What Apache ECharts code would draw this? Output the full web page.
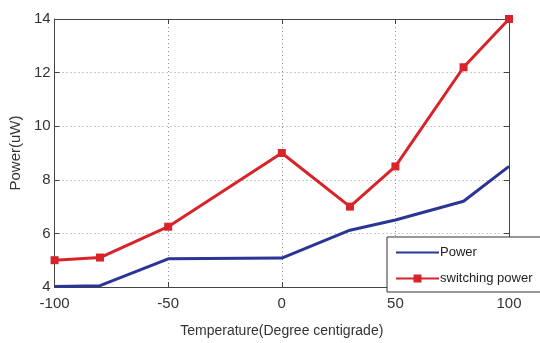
<!DOCTYPE html>
<html><head><meta charset="utf-8">
<script src="https://cdn.jsdelivr.net/npm/echarts@6/dist/echarts.min.js"></script>
<style>html,body{margin:0;padding:0;background:#fff}#c{width:540px;height:343px}</style>
</head><body><div id="c"></div>
<script>
const temps = [-100, -80, -50, 0, 30, 50, 80, 100];
const powerVals = [4.02, 4.05, 5.05, 5.08, 6.12, 6.5, 7.2, 8.5];
const switchingVals = [5.0, 5.1, 6.25, 9.0, 7.0, 8.5, 12.2, 14.0];
const xTicks = [-100, -50, 0, 50, 100];
const yTicks = [4, 6, 8, 10, 12, 14];
const seriesNames = ['Power', 'switching power'];

const FONT = '"Liberation Sans Narrow", "Liberation Sans", Arial, sans-serif';
const pair = (xs, ys) => xs.map((x, i) => [x, ys[i]]);
const chart = echarts.init(document.getElementById('c'));
const gridLine = {show: true, lineStyle: {color: '#999', type: [1, 3], width: 1}};
chart.setOption({
  animation: false,
  backgroundColor: '#fff',
  grid: {left: 52, right: 31, top: 19, bottom: 54, containLabel: false},
  xAxis: [{
    type: 'value', min: xTicks[0], max: xTicks[xTicks.length - 1], interval: 50,
    position: 'bottom',
    name: 'Temperature(Degree centigrade)', nameLocation: 'middle', nameGap: 37,
    nameTextStyle: {fontFamily: FONT, fontSize: 14, color: '#333'},
    axisLine: {show: true, onZero: false, lineStyle: {color: '#444', width: 1}},
    axisTick: {show: true, inside: true, length: 5, lineStyle: {color: '#444'}},
    axisLabel: {fontFamily: FONT, fontSize: 15, color: '#333', margin: 9},
    splitLine: gridLine
  }, {
    type: 'value', min: xTicks[0], max: xTicks[xTicks.length - 1], interval: 50,
    position: 'top',
    axisLine: {show: true, onZero: false, lineStyle: {color: '#444', width: 1}},
    axisTick: {show: true, inside: true, length: 5, lineStyle: {color: '#444'}},
    axisLabel: {show: false}, splitLine: {show: false}
  }],
  yAxis: [{
    type: 'value', min: yTicks[0], max: yTicks[yTicks.length - 1], interval: 2,
    position: 'left',
    name: 'Power(uW)', nameLocation: 'middle', nameGap: 28, nameRotate: 90,
    nameTextStyle: {fontFamily: FONT, fontSize: 15, color: '#333'},
    axisLine: {show: true, onZero: false, lineStyle: {color: '#444', width: 1}},
    axisTick: {show: true, inside: true, length: 5, lineStyle: {color: '#444'}},
    axisLabel: {fontFamily: FONT, fontSize: 15, color: '#333', margin: 4},
    splitLine: gridLine
  }, {
    type: 'value', min: yTicks[0], max: yTicks[yTicks.length - 1], interval: 2,
    position: 'right',
    axisLine: {show: true, onZero: false, lineStyle: {color: '#444', width: 1}},
    axisTick: {show: true, inside: true, length: 5, lineStyle: {color: '#444'}},
    axisLabel: {show: false}, splitLine: {show: false}
  }],
  legend: {
    orient: 'vertical', left: 387, top: 237,
    padding: [9, 40, 7, 8], itemGap: 13, itemWidth: 43, itemHeight: 10,
    backgroundColor: '#fff', borderColor: '#333', borderWidth: 1, borderRadius: 0,
    textStyle: {fontFamily: FONT, fontSize: 13, color: '#222', padding: [0, 0, 0, -4]},
    data: [{name: seriesNames[0], itemStyle: {opacity: 0}}, {name: seriesNames[1]}]
  },
  series: [{
    name: seriesNames[0], type: 'line', data: pair(temps, powerVals),
    symbol: 'none', color: '#2a3595',
    lineStyle: {color: '#2a3595', width: 3}
  }, {
    name: seriesNames[1], type: 'line', data: pair(temps, switchingVals),
    symbol: 'rect', symbolSize: 8, color: '#d9232a',
    itemStyle: {color: '#d9232a'},
    lineStyle: {color: '#d9232a', width: 3}
  }]
});
</script></body></html>
